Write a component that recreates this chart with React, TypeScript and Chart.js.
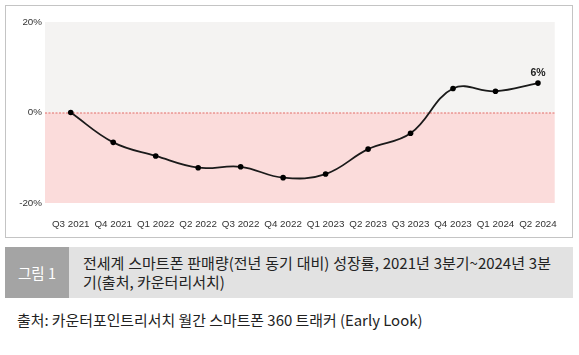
import React, { useEffect, useRef } from "react";
import { Chart, registerables } from "chart.js";

Chart.register(...registerables);

const categories = ["Q3 2021", "Q4 2021", "Q1 2022", "Q2 2022", "Q3 2022", "Q4 2022", "Q1 2023", "Q2 2023", "Q3 2023", "Q4 2023", "Q1 2024", "Q2 2024"];
const growth = [0, -6.6, -9.6, -12.2, -12.0, -14.4, -13.6, -8.1, -4.6, 5.3, 4.7, 6.5];
const yTicks = [-20, 0, 20];
const lastLabel = "6%";
const captionTag = "그림 1";
const captionLine1 = "전세계 스마트폰 판매량(전년 동기 대비) 성장률, 2021년 3분기~2024년 3분";
const captionLine2 = "기(출처, 카운터리서치)";
const sourceText = "출처: 카운터포인트리서치 월간 스마트폰 360 트래커 (Early Look)";

const AXIS_FONT = "'Liberation Sans', Arial, sans-serif";

const bgPlugin = {
  id: "bgBands",
  beforeDatasetsDraw(chart: any) {
    const { ctx, chartArea, scales } = chart;
    const y0 = scales.y.getPixelForValue(0);
    const l = chartArea.left - 4.5;
    const r = chartArea.right - 4.5;
    ctx.save();
    ctx.fillStyle = "#f4f3f2";
    ctx.fillRect(l, chartArea.top, r - l, y0 - chartArea.top);
    ctx.fillStyle = "#fbdcdb";
    ctx.fillRect(l, y0, r - l, chartArea.bottom - y0);
    ctx.strokeStyle = "#d9534f";
    ctx.lineWidth = 0.8;
    ctx.setLineDash([2, 1.5]);
    ctx.beginPath();
    ctx.moveTo(l, y0 + 0.5);
    ctx.lineTo(r, y0 + 0.5);
    ctx.stroke();
    ctx.restore();
  },
  afterDatasetsDraw(chart: any) {
    const { ctx } = chart;
    const meta = chart.getDatasetMeta(0);
    const pt = meta.data[meta.data.length - 1];
    ctx.save();
    ctx.fillStyle = "#222";
    ctx.font = "bold 10.5px " + AXIS_FONT;
    ctx.textAlign = "center";
    ctx.textBaseline = "bottom";
    ctx.fillText(lastLabel, pt.x, pt.y - 5);
    ctx.restore();
  },
};

export default function App() {
  const ref = useRef<HTMLCanvasElement | null>(null);
  useEffect(() => {
    if (!ref.current) return;
    const chart = new Chart(ref.current, {
      type: "line",
      data: {
        labels: categories,
        datasets: [
          {
            data: growth,
            borderColor: "#1a1a1a",
            backgroundColor: "#000",
            borderWidth: 1.8,
            pointRadius: 2.8,
            pointBackgroundColor: "#000",
            pointBorderWidth: 0,
            tension: 0.4,
          },
        ],
      },
      options: {
        animation: false,
        responsive: false,
        maintainAspectRatio: false,
        layout: { padding: { left: 0, right: 5.5, top: 16, bottom: 0 } },
        plugins: { legend: { display: false }, tooltip: { enabled: false } },
        scales: {
          x: {
            offset: true,
            grid: { display: false, drawTicks: false },
            border: { display: false },
            ticks: {
              color: "#333",
              font: { size: 9.8, family: AXIS_FONT },
              padding: 15,
              maxRotation: 0,
              autoSkip: false,
            },
            afterFit: (s: any) => { s.height = 34; },
          },
          y: {
            min: -20,
            max: 20,
            afterBuildTicks: (s: any) => { s.ticks = yTicks.map((v) => ({ value: v })); },
            grid: { display: false, drawTicks: false },
            border: { display: false },
            ticks: {
              color: "#333",
              font: { size: 9.8, family: AXIS_FONT },
              padding: 7.5,
              callback: (v: any) => `${v}%`,
            },
            afterFit: (s: any) => { s.width = 43.5; },
          },
        },
      },
      plugins: [bgPlugin],
    });
    return () => chart.destroy();
  }, []);

  return (
    <div style={{ position: "fixed", left: 0, top: 0, width: 579, height: 355, background: "#fff", fontFamily: "'Noto Sans CJK KR', sans-serif" }}>
      <div style={{ position: "absolute", left: 5, top: 5, width: 566, height: 231, border: "1px solid #c4c4c4" }}>
        <canvas ref={ref} width={566} height={231} style={{ display: "block", width: 566, height: 231 }} />
      </div>
      <div style={{ position: "absolute", left: 5, top: 247, width: 568, height: 51, background: "#e2e2e2" }}>
        <div style={{ position: "absolute", left: 0, top: 0, width: 64, height: 51, background: "#a4a4a4", color: "#fff", fontSize: 14.5, display: "flex", alignItems: "center", justifyContent: "center" }}>{captionTag}</div>
        <div style={{ position: "absolute", left: 78, top: 6, width: 477, fontSize: 15, lineHeight: "19px", color: "#222", whiteSpace: "nowrap", wordSpacing: 0.5 }}>{captionLine1}</div>
        <div style={{ position: "absolute", left: 78, top: 25, fontSize: 15, lineHeight: "19px", color: "#222", whiteSpace: "nowrap" }}>{captionLine2}</div>
      </div>
      <div style={{ position: "absolute", left: 17, top: 309, fontSize: 14.9, color: "#222", whiteSpace: "nowrap" }}>{sourceText}</div>
    </div>
  );
}
